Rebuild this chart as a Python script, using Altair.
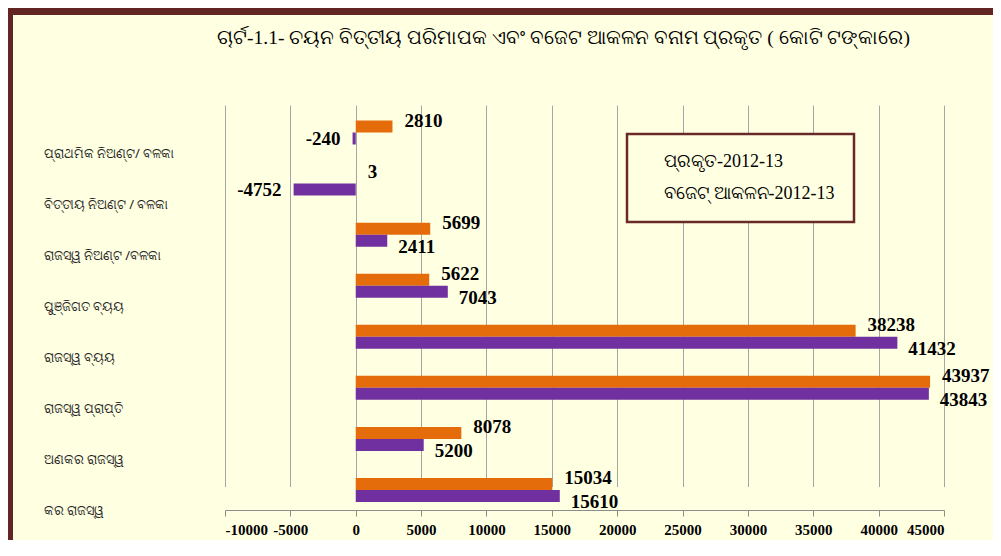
import altair as alt
import pandas as pd

title_text = "ଚାର୍ଟ-1.1- ଚୟନ ବିତ୍ତୀୟ ପରିମାପକ ଏବଂ ବଜେଟ ଆକଳନ ବନାମ ପ୍ରକୃତ ( କୋଟି ଟଙ୍କାରେ)"

categories = [
    "ପ୍ରାଥମିକ ନିଅଣ୍ଟ/ ବଳକା",
    "ବିତ୍ତୀୟ ନିଅଣ୍ଟ / ବଳକା",
    "ରାଜସ୍ୱ ନିଅଣ୍ଟ /ବଳକା",
    "ପୁଞ୍ଜିଗତ ବ୍ୟୟ",
    "ରାଜସ୍ୱ ବ୍ୟୟ",
    "ରାଜସ୍ୱ ପ୍ରାପ୍ତି",
    "ଅଣକର ରାଜସ୍ୱ",
    "କର ରାଜସ୍ୱ",
]
series_names = ["ପ୍ରକୃତ-2012-13", "ବଜେଟ୍ ଆକଳନ-2012-13"]
actual_2012_13 = [2810, 3, 5699, 5622, 38238, 43937, 8078, 15034]
budget_2012_13 = [-240, -4752, 2411, 7043, 41432, 43843, 5200, 15610]
series_colors = ["#E46C0A", "#7030A0"]
x_ticks = list(range(-10000, 45001, 5000))

rows = []
for c, a, b in zip(categories, actual_2012_13, budget_2012_13):
    rows.append({"cat": c, "series": series_names[0], "value": a})
    rows.append({"cat": c, "series": series_names[1], "value": b})
df = pd.DataFrame(rows)

W, H = 719, 413
PAD_L, PAD_T, PAD_R, PAD_B = 217, 89, 49, 30

y_enc = alt.Y(
    "cat:N",
    sort=categories,
    scale=alt.Scale(domain=categories, range=[23.5, 405], paddingInner=0.53, paddingOuter=0),
    axis=alt.Axis(
        title=None,
        domain=False,
        ticks=False,
        grid=False,
        labelAlign="left",
        labelPadding=182,
        labelOffset=21,
        labelFont="Noto Sans",
        labelFontSize=13,
        labelColor="#222222",
        labelLimit=200,
    ),
)
yoff_enc = alt.YOffset("series:N", scale=alt.Scale(domain=series_names), sort=series_names)
x_enc = alt.X(
    "value:Q",
    scale=alt.Scale(domain=[-10000, 45000], nice=False, zero=False),
    axis=alt.Axis(
        title=None,
        values=x_ticks,
        labelExpr="'' + datum.value",
        labelOverlap=False,
        grid=True,
        gridColor="#A6A6A6",
        gridWidth=1,
        domainColor="#8C8C8C",
        tickColor="#8C8C8C",
        tickSize=6,
        labelPadding=6,
        labelFont="Liberation Serif",
        labelFontWeight="bold",
        labelFontSize=15,
        labelColor="#000000",
    ),
)

base = alt.Chart(df).transform_calculate(lbl="'' + datum.value")

bars = base.mark_bar(size=12).encode(
    x=x_enc,
    y=y_enc,
    yOffset=yoff_enc,
    color=alt.Color(
        "series:N",
        scale=alt.Scale(domain=series_names, range=series_colors),
        legend=alt.Legend(
            title=None,
            orient="none",
            legendX=402,
            legendY=37,
            symbolSize=0,
            symbolOpacity=0,
            symbolStrokeWidth=0,
            labelOffset=0,
            labelFont="Liberation Serif",
            labelFontSize=18,
            labelColor="#000000",
            labelLimit=400,
            rowPadding=14,
            padding=19,
            strokeColor="#6B2A2A",
            fillColor="#FFFFE2",
        ),
    ),
)

lbl_style = dict(font="Liberation Serif", fontWeight="bold", fontSize=19, color="#000000", baseline="middle")

t_actual = base.transform_filter(
    alt.datum.series == series_names[0]
).mark_text(align="left", dx=12, dy=-6, **lbl_style).encode(
    x="value:Q", y=alt.Y("cat:N", sort=categories), yOffset=yoff_enc, text="lbl:N"
)
t_budget_pos = base.transform_filter(
    (alt.datum.series == series_names[1]) & (alt.datum.value >= 0)
).mark_text(align="left", dx=11, dy=6, **lbl_style).encode(
    x="value:Q", y=alt.Y("cat:N", sort=categories), yOffset=yoff_enc, text="lbl:N"
)
t_budget_neg = base.transform_filter(
    (alt.datum.series == series_names[1]) & (alt.datum.value < 0)
).mark_text(align="right", dx=-12, dy=0, **lbl_style).encode(
    x="value:Q", y=alt.Y("cat:N", sort=categories), yOffset=yoff_enc, text="lbl:N"
)

frame_top = alt.Chart(pd.DataFrame({"k": [0]})).mark_rule(color="#632523", strokeWidth=7).encode(
    x=alt.value(-PAD_L), x2=alt.value(W + PAD_R), y=alt.value(-PAD_T + 3.5)
)
frame_left = alt.Chart(pd.DataFrame({"k": [0]})).mark_rule(color="#632523", strokeWidth=5).encode(
    x=alt.value(-PAD_L + 2.5), y=alt.value(-PAD_T), y2=alt.value(H + PAD_B)
)

chart = alt.layer(bars, t_actual, t_budget_pos, t_budget_neg, frame_top, frame_left).properties(
    width=W,
    height=H,
    autosize=alt.AutoSizeParams(type="none"),
    padding={"left": PAD_L, "top": PAD_T, "right": PAD_R, "bottom": PAD_B},
    background="#FFFFE2",
    title=alt.TitleParams(
        text=title_text,
        anchor="middle",
        dx=-21,
        offset=-62,
        baseline="bottom",
        font="Liberation Serif",
        fontSize=19.5,
        fontWeight="normal",
        color="#000000",
    ),
).configure_view(stroke=None).configure_legend(strokeWidth=2.5)

chart.save("out.html", embed_options={"renderer": "svg", "actions": False})
